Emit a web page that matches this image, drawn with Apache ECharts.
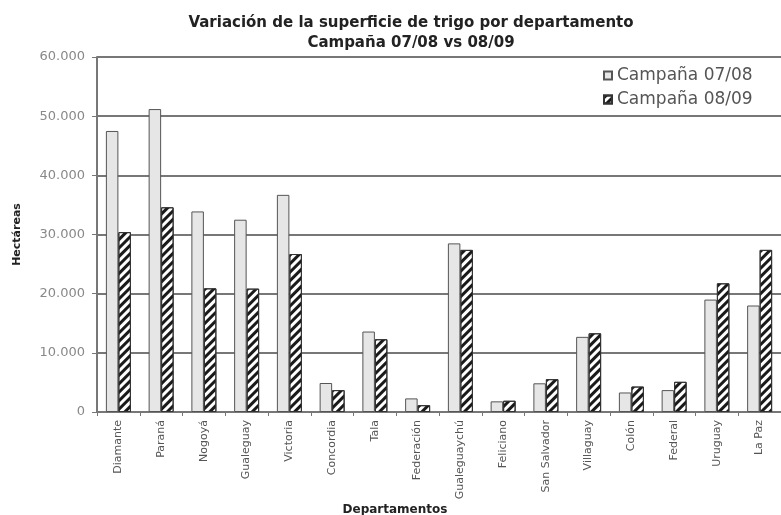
<!DOCTYPE html>
<html>
<head>
<meta charset="utf-8">
<script src="https://cdn.jsdelivr.net/npm/echarts@6/dist/echarts.min.js"></script>
<style>
  html, body { margin: 0; padding: 0; background: #fff; }
  #chart { width: 781px; height: 515px; }
</style>
</head>
<body>
<div id="chart"></div>
<script>
var departamentos = ['Diamante', 'Paraná', 'Nogoyá', 'Gualeguay', 'Victoria', 'Concordia', 'Tala', 'Federación',
    'Gualeguaychú', 'Feliciano', 'San Salvador', 'Villaguay', 'Colón', 'Federal', 'Uruguay', 'La Paz'];
var campana0708 = [47500, 51200, 33900, 32500, 36700, 4900, 13600, 2300, 28500, 1800, 4850, 12700, 3300, 3700, 19000, 18000];
var campana0809 = [30400, 34600, 20900, 20850, 26700, 3700, 12300, 1150, 27400, 1900, 5550, 13300, 4300, 5100, 21750, 27400];
var yTicks = [0, 10000, 20000, 30000, 40000, 50000, 60000];

var chart = echarts.init(document.getElementById('chart'));

function fmtMiles(v) {
    return String(v).replace(/\B(?=(\d{3})+(?!\d))/g, '.');
}

var option = {
    animation: false,
    textStyle: { fontFamily: 'DejaVu Sans' },
    title: [{
        text: 'Variación de la superficie de trigo por departamento\nCampaña 07/08 vs 08/09',
        left: 406,
        top: 8,
        textAlign: 'center',
        textStyle: { fontSize: 15, fontWeight: 'bold', color: '#222', lineHeight: 20 }
    }, {
        text: 'Departamentos',
        left: 390,
        top: 499,
        textAlign: 'center',
        textStyle: { fontSize: 12, fontWeight: 'bold', color: '#222' }
    }],
    legend: {
        orient: 'vertical',
        left: 598,
        top: 62,
        itemWidth: 8,
        itemHeight: 8,
        itemGap: 7,
        icon: 'rect',
        textStyle: { fontSize: 17, color: '#555' },
        data: ['Campaña 07/08', 'Campaña 08/09']
    },
    grid: { left: 97, top: 57, bottom: 103, right: -12 },
    xAxis: {
        type: 'category',
        data: departamentos,
        axisLine: { lineStyle: { color: '#777', width: 2 } },
        axisTick: { show: true, length: 4, lineStyle: { color: '#777' } },
        axisLabel: { interval: 0, rotate: 90, fontSize: 11, color: '#555', margin: 8 }
    },
    yAxis: {
        type: 'value',
        min: 0,
        max: yTicks[yTicks.length - 1],
        interval: 10000,
        name: 'Hectáreas',
        nameLocation: 'middle',
        nameGap: 74,
        nameTextStyle: { fontSize: 11, fontWeight: 'bold', color: '#222' },
        axisLine: { show: true, lineStyle: { color: '#777', width: 2 } },
        axisTick: { show: true, length: 5, lineStyle: { color: '#777' } },
        axisLabel: { fontSize: 13, color: '#888', margin: 12, formatter: fmtMiles },
        splitLine: { lineStyle: { color: '#777', width: 2 } }
    },
    series: [{
        name: 'Campaña 07/08',
        type: 'bar',
        data: campana0708,
        barWidth: 12.5,
        barGap: '0%',
        itemStyle: { color: '#e6e6e6', borderColor: '#555', borderWidth: 1 }
    }, {
        name: 'Campaña 08/09',
        type: 'bar',
        data: campana0809,
        barWidth: 12.5,
        itemStyle: {
            color: '#fff',
            borderColor: '#333',
            borderWidth: 1,
            decal: {
                symbol: 'rect',
                color: '#1a1a1a',
                dashArrayX: [1, 0],
                dashArrayY: [3, 3],
                rotation: -Math.PI / 4
            }
        }
    }]
};

chart.setOption(option);
</script>
</body>
</html>
